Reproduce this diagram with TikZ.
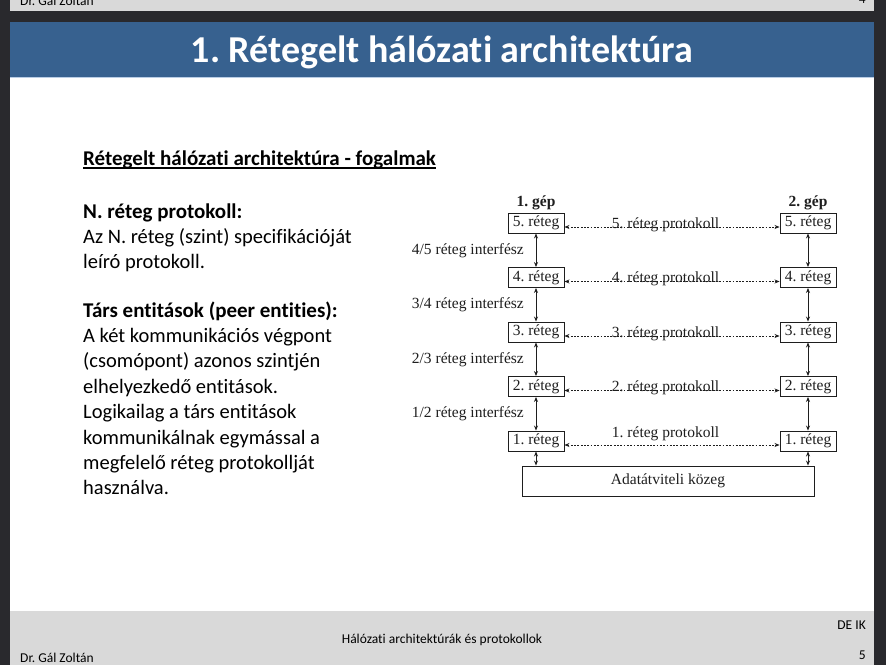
\documentclass[tikz,border=0pt]{standalone}
\usepackage{fontspec}
\setmainfont{Carlito}[Ligatures=NoCommon]
\newfontfamily\tms{Liberation Serif}
\usetikzlibrary{arrows.meta,calc}
\definecolor{frame}{HTML}{29292D}
\definecolor{band}{HTML}{D9D9D9}
\definecolor{head}{HTML}{37618F}
\definecolor{headline}{HTML}{B9CDE5}
\definecolor{ink}{HTML}{1E1E1E}
\frenchspacing

\begin{document}
\begin{tikzpicture}[x=1pt,y=-1pt,
  bodyline/.style={anchor=base west, inner sep=0pt, font=\fontsize{20.5}{24}\selectfont},
  boldline/.style={bodyline, font=\bfseries\fontsize{21}{24}\selectfont},
  foot/.style={inner sep=0pt, font=\fontsize{13.5}{16}\selectfont},
  serif/.style={inner sep=0pt, text=ink, font=\tms\fontsize{15.5}{18}\selectfont},
  layerbox/.style={serif, draw=ink, line width=0.9pt, minimum width=56pt, minimum height=20pt},
  mediumbox/.style={serif, draw=ink, line width=0.9pt, minimum width=292pt, minimum height=30pt},
  host/.style={serif, anchor=base, font=\tms\bfseries\fontsize{15.5}{18}\selectfont},
  iflabel/.style={serif, anchor=east},
  protolabel/.style={serif, anchor=base, pos=0.47},
  vlink/.style={draw=ink, line width=0.8pt, {Stealth[length=5pt,width=4pt]}-{Stealth[length=5pt,width=4pt]}},
  peerlink/.style={draw=ink, line width=0.7pt, dash pattern=on 1.8pt off 1.5pt,
    {Stealth[length=5pt,width=4pt]}-{Stealth[length=5pt,width=4pt]}}
]
\useasboundingbox (0,0) rectangle (886,665);

% slide frame and bands
\fill[frame] (0,0) rectangle (886,665);
\fill[band] (10,0) rectangle (874,11);
\fill[head] (10,22) rectangle (874,77);
\fill[white] (10,77) rectangle (874,611);
\draw[headline, line width=1.2pt] (10,77.6) -- (874,77.6);
\fill[band] (10,611) rectangle (874,665);

% footer of the previous slide, cut off at the top
\begin{scope}
  \clip (10,0) rectangle (874,11);
  \node[foot, anchor=base west] (prevauthor) at (20,5) {Dr. Gál Zoltán};
  \node[foot, anchor=base east] (prevpage) at (866,3) {4};
\end{scope}

% title
\node[anchor=base, inner sep=0pt, text=white, font=\bfseries\fontsize{38}{40}\selectfont]
  (title) at (442,62) {1. Rétegelt hálózati architektúra};

% left column text
\node[boldline] (sub) at (83,165) {Rétegelt hálózati architektúra - fogalmak};
\draw[line width=1.3pt] ([yshift=-3pt]sub.base west) -- ([yshift=-3pt]sub.base east);

\node[boldline] (t1) at (83,218) {N. réteg protokoll:};
\node[bodyline] (t2) at (83,243) {Az N. réteg (szint) specifikációját};
\node[bodyline] (t3) at (83,268) {leíró protokoll.};

\node[boldline] (p1) at (83,317) {Társ entitások (peer entities):};
\node[bodyline] (p2) at (83,342.4) {A két kommunikációs végpont};
\node[bodyline] (p3) at (83,367.8) {(csomópont) azonos szintjén};
\node[bodyline] (p4) at (83,393.2) {elhelyezkedő entitások.};
\node[bodyline] (p5) at (83,418.6) {Logikailag a társ entitások};
\node[bodyline] (p6) at (83,444) {kommunikálnak egymással a};
\node[bodyline] (p7) at (83,469.4) {megfelelő réteg protokollját};
\node[bodyline] (p8) at (83,494.8) {használva.};

% layer diagram
\node[host] (h1) at (536,206) {1. gép};
\node[host] (h2) at (808,206) {2. gép};

\node[layerbox] (l5) at (536,223)   {5. réteg};
\node[layerbox] (l4) at (536,277.5) {4. réteg};
\node[layerbox] (l3) at (536,332)   {3. réteg};
\node[layerbox] (l2) at (536,386.5) {2. réteg};
\node[layerbox] (l1) at (536,441)   {1. réteg};

\node[layerbox] (r5) at (808,223)   {5. réteg};
\node[layerbox] (r4) at (808,277.5) {4. réteg};
\node[layerbox] (r3) at (808,332)   {3. réteg};
\node[layerbox] (r2) at (808,386.5) {2. réteg};
\node[layerbox] (r1) at (808,441)   {1. réteg};

\node[mediumbox] (med) at (668,481) {Adatátviteli közeg};

% interfaces between neighbouring layers
\draw[vlink] (l5) -- (l4);
\draw[vlink] (l4) -- (l3);
\draw[vlink] (l3) -- (l2);
\draw[vlink] (l2) -- (l1);
\draw[vlink] (l1.south) -- (l1.south |- med.north);
\draw[vlink] (r5) -- (r4);
\draw[vlink] (r4) -- (r3);
\draw[vlink] (r3) -- (r2);
\draw[vlink] (r2) -- (r1);
\draw[vlink] (r1.south) -- (r1.south |- med.north);

\node[iflabel] (i45) at ($(l5)!0.5!(l4)+(-12,0)$) {4/5 réteg interfész};
\node[iflabel] (i34) at ($(l4)!0.5!(l3)+(-12,0)$) {3/4 réteg interfész};
\node[iflabel] (i23) at ($(l3)!0.5!(l2)+(-12,0)$) {2/3 réteg interfész};
\node[iflabel] (i12) at ($(l2)!0.5!(l1)+(-12,0)$) {1/2 réteg interfész};

% peer protocols
\draw[peerlink] ([yshift=-4pt]l5.east) -- node[protolabel, yshift=-1pt] (pr5) {5. réteg protokoll} ([yshift=-4pt]r5.west);
\draw[peerlink] ([yshift=-4pt]l4.east) -- node[protolabel, yshift=-1pt] (pr4) {4. réteg protokoll} ([yshift=-4pt]r4.west);
\draw[peerlink] ([yshift=-4pt]l3.east) -- node[protolabel, yshift=-1pt] (pr3) {3. réteg protokoll} ([yshift=-4pt]r3.west);
\draw[peerlink] ([yshift=-4pt]l2.east) -- node[protolabel, yshift=-1pt] (pr2) {2. réteg protokoll} ([yshift=-4pt]r2.west);
\draw[peerlink] ([yshift=-4pt]l1.east) -- node[protolabel, yshift=8pt] (pr1) {1. réteg protokoll} ([yshift=-4pt]r1.west);

% footer
\node[foot, anchor=east] (dept) at (866,625) {DE IK};
\node[foot] (course) at (442,640) {Hálózati architektúrák és protokollok};
\node[foot, anchor=west] (author) at (20,658) {Dr. Gál Zoltán};
\node[foot, anchor=east] (page) at (866,655) {5};
\end{tikzpicture}
\end{document}
